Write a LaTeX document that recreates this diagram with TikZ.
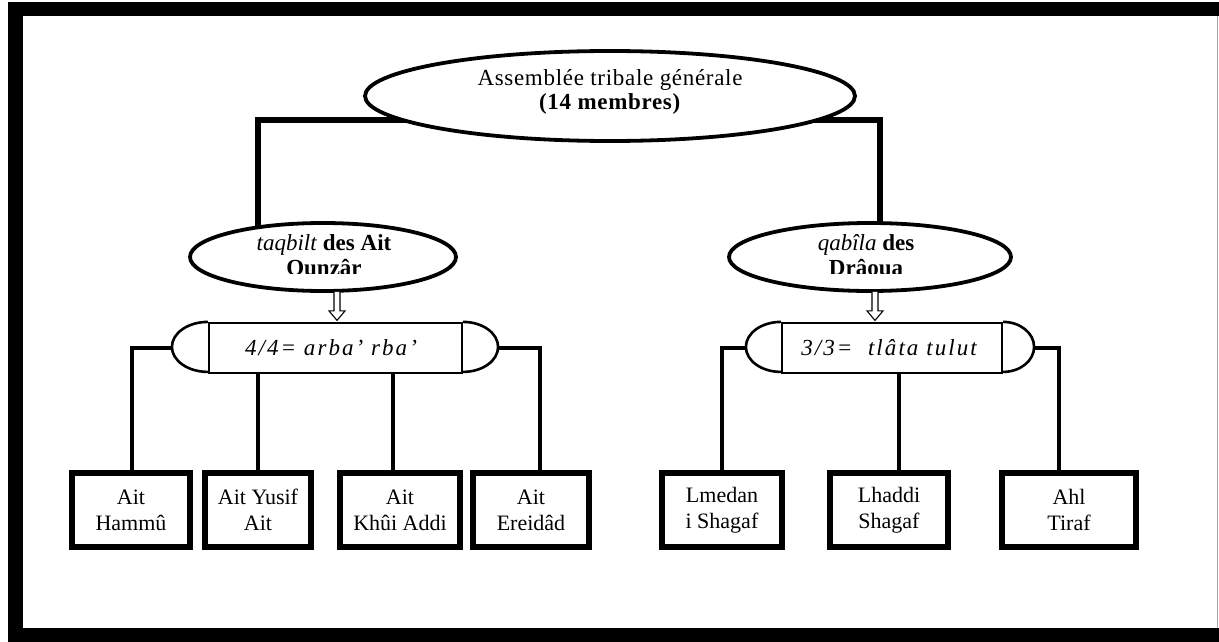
\documentclass[tikz,border=0pt]{standalone}
\usepackage{fontspec}
\setmainfont{Liberation Serif}
\usetikzlibrary{shapes.geometric,calc,backgrounds}
\tikzset{
  oval/.style={ellipse, draw, line width=3.8pt, inner sep=0pt, fill=white},
  dispbox/.style={rectangle, draw, line width=2.2pt, inner sep=0pt, minimum height=50pt, fill=white},
  leaf/.style={rectangle, draw, line width=5.5pt, inner sep=0pt, minimum height=74pt, align=center, font=\fontsize{22}{26}\selectfont},
  thick link/.style={line width=6pt},
  link/.style={line width=3.2pt},
  hollowarrow/.style={line width=1.1pt, fill=white, line join=miter},
  txt/.style={align=center, inner sep=0pt},
  disptxt/.style={txt, font=\fontsize{23}{25}\selectfont\itshape\addfontfeatures{LetterSpace=9}}
}
\begin{document}
\begin{tikzpicture}[x=1pt,y=-1pt]
\useasboundingbox (0,0) rectangle (1219,642);
% frame
\fill (8,2) rectangle (1219,16);
\fill (8,2) rectangle (23,642);
\fill (8,628) rectangle (1219,642);
\draw[line width=1.2pt, gray!70] (1217.5,16) -- (1217.5,628);

% top ellipse
\node[oval, minimum width=490pt, minimum height=90pt] (top) at (610,96) {};
\node[txt, font=\fontsize{23}{24}\selectfont\addfontfeatures{LetterSpace=3}] (toptxt) at (610,92) {Assemblée tribale générale\\\textbf{(14 membres)}};

% mid ellipses
\node[oval, minimum width=266pt, minimum height=68pt] (midL) at (323,257) {};
\node[oval, minimum width=282pt, minimum height=68pt] (midR) at (870,257) {};
\begin{scope}
\clip (150,200) rectangle (1100,273);
\node[txt, font=\fontsize{23}{25}\selectfont, anchor=north] (midLtxt) at (324,234) {\textit{taqbilt} \textbf{des Ait}\\\textbf{Ounzâr}};
\node[txt, font=\fontsize{23}{25}\selectfont, anchor=north] (midRtxt) at (866,234) {\textit{qabîla} \textbf{des}\\\textbf{Drâoua}};
\end{scope}

% thick connectors (behind the ovals)
\coordinate (tl) at (258,0);
\coordinate (tr) at (880,0);
\coordinate (ty) at (0,120);
\begin{scope}[on background layer]
\draw[thick link] (top.center |- ty) -- (tl |- ty) -- (tl |- midL.center);
\draw[thick link] (top.center |- ty) -- (tr |- ty) -- (tr |- midR.center);
\end{scope}

% display boxes
\node[dispbox, minimum width=253pt] (dispL) at (335.5,348) {};
\node[dispbox, minimum width=220pt] (dispR) at (892,348) {};
\draw[line width=2.6pt, fill=white] (dispL.north west) arc[start angle=90, end angle=270, x radius=36pt, y radius=25pt];
\draw[line width=2.6pt, fill=white] (dispL.north east) arc[start angle=90, end angle=-90, x radius=35pt, y radius=25pt];
\draw[line width=2.6pt, fill=white] (dispR.north west) arc[start angle=90, end angle=270, x radius=35pt, y radius=25pt];
\draw[line width=2.6pt, fill=white] (dispR.north east) arc[start angle=90, end angle=-90, x radius=31pt, y radius=25pt];
\coordinate (dLw) at ($(dispL.west)+(-36,0)$);
\coordinate (dLe) at ($(dispL.east)+(35,0)$);
\coordinate (dRw) at ($(dispR.west)+(-35,0)$);
\coordinate (dRe) at ($(dispR.east)+(31,0)$);
\node[disptxt] (dLt) at (331,348) {4/4= arba' rba'};
\node[disptxt] (dRt) at (889,348) {3/3=\ \ tlâta tulut};

% hollow arrows
\coordinate (axL) at (337,0);
\coordinate (axR) at (875,0);
\foreach \a/\b/\x in {midL/dispL/axL, midR/dispR/axR}{
  \draw[hollowarrow] ($(\x |- \a.south)+(-3,-1)$) -- ($(\x |- \b.north)+(-3,-11)$) -- ($(\x |- \b.north)+(-8,-11)$) -- ($(\x |- \b.north)+(0,-1.5)$) -- ($(\x |- \b.north)+(8,-11)$) -- ($(\x |- \b.north)+(3,-11)$) -- ($(\x |- \a.south)+(3,-1)$);
}

% leaves
\node[leaf, minimum width=118pt] (l1) at (131,510) {Ait\\Hammû};
\node[leaf, minimum width=106pt] (l2) at (258,510) {Ait Yusif\\Ait};
\node[leaf, minimum width=120pt] (l3) at (400,510) {Ait\\Khûi Addi};
\node[leaf, minimum width=116pt] (l4) at (531,510) {Ait\\Ereidâd};
\node[leaf, minimum width=120pt] (r1) at (722,510) {Lmedan\\i Shagaf};
\node[leaf, minimum width=118pt] (r2) at (889,510) {Lhaddi\\Shagaf};
\node[leaf, minimum width=134pt] (r3) at (1069,510) {Ahl\\Tiraf};

% links
\coordinate (x1) at (132,0);
\coordinate (x3) at (393,0);
\coordinate (x4) at (540,0);
\coordinate (x5) at (722,0);
\coordinate (x6) at (899,0);
\coordinate (x7) at (1059,0);
\draw[link] (dLw) -- (dLw -| x1) -- (x1 |- l1.north);
\draw[link] (dLe) -- (dLe -| x4) -- (x4 |- l4.north);
\draw[link] (dispL.south -| l2) -- (l2.north);
\draw[link] (dispL.south -| x3) -- (x3 |- l3.north);
\draw[link] (dRw) -- (dRw -| x5) -- (x5 |- r1.north);
\draw[link] (dRe) -- (dRe -| x7) -- (x7 |- r3.north);
\draw[link] (dispR.south -| x6) -- (x6 |- r2.north);
\end{tikzpicture}
\end{document}
